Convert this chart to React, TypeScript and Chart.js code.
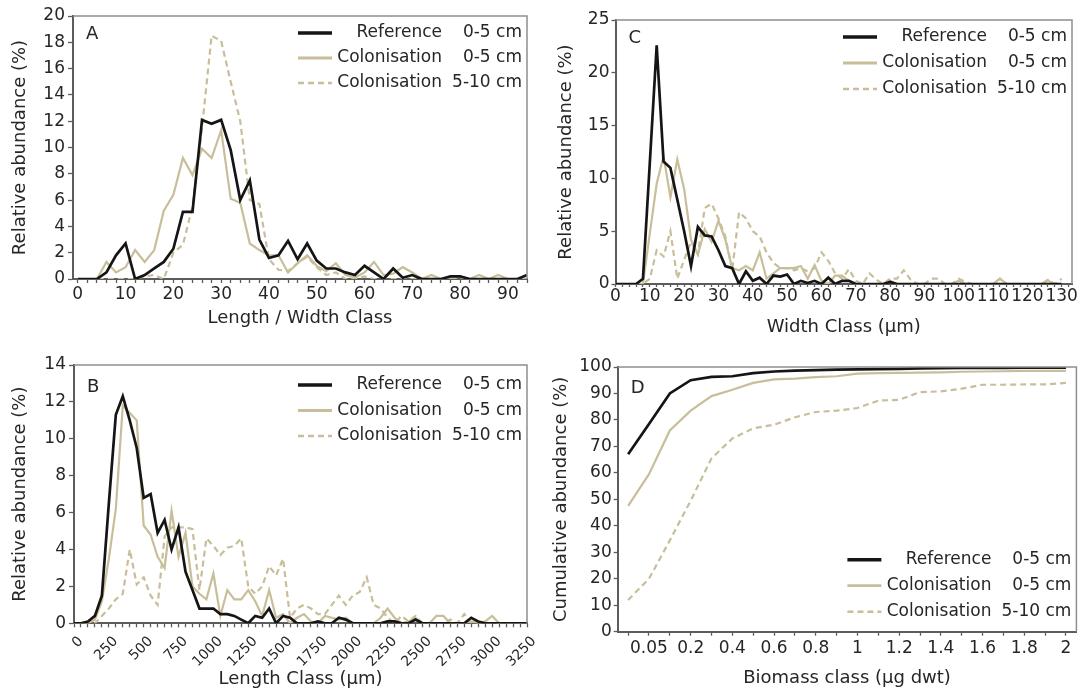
import React, { useEffect, useRef } from 'react';
import { Chart, registerables } from 'chart.js';

Chart.register(...registerables);

const FONT_FAMILY = '"DejaVu Sans", "Liberation Sans", sans-serif';
const TEXT_COLOR = '#262626';
const AXIS_COLOR = '#5c5c5c';
const FRAME_COLOR = '#8e8e8e';
const REF_COLOR = '#151515';
const COL_COLOR = '#c8be99';

const SERIES_NAMES = ['Reference', 'Colonisation', 'Colonisation'];
const SERIES_DEPTHS = ['0-5 cm', '0-5 cm', '5-10 cm'];

function classRange(start: number, end: number, step: number): number[] {
  const out: number[] = [];
  for (let v = start; v <= end + 1e-9; v += step) out.push(v);
  return out;
}

// ---------- Panel A : Length / Width class ----------
const A_CLASSES = classRange(0, 94, 2);
const A_REF = [
  0, 0, 0, 0.5, 1.8, 2.7, 0, 0.3, 0.8, 1.3,
  2.3, 5.1, 5.1, 12.1, 11.8, 12.1, 9.8, 6.0, 7.5, 3.0,
  1.6, 1.8, 2.9, 1.5, 2.7, 1.4, 0.8, 0.8, 0.5, 0.3,
  1.0, 0.5, 0, 0.8, 0.1, 0.3, 0, 0, 0, 0.2,
  0.2, 0, 0, 0, 0, 0, 0, 0.3,
];
const A_COL_0_5 = [
  0, 0, 0, 1.3, 0.5, 0.9, 2.2, 1.3, 2.2, 5.2,
  6.4, 9.2, 7.9, 9.9, 9.2, 11.3, 6.1, 5.8, 2.7, 2.2,
  1.8, 1.8, 0.5, 1.2, 1.8, 1.0, 0.6, 1.2, 0.3, 0.1,
  0.5, 1.3, 0.3, 0.4, 0.9, 0.5, 0, 0.3, 0, 0,
  0.2, 0, 0.3, 0, 0.3, 0, 0, 0,
];
const A_COL_5_10 = [
  0, 0, 0, 0, 0, 0, 0, 0.2, 0.3, 0,
  2.0, 2.6, 5.5, 11.5, 18.5, 18.1, 15.0, 12.0, 6.0, 5.7,
  1.5, 0.7, 0.6, 1.2, 1.7, 0.9, 0.3, 0.5, 0, 0,
  0.2, 0, 0, 0, 0, 0, 0, 0, 0, 0,
  0, 0, 0, 0, 0, 0, 0, 0,
];

// ---------- Panel B : Length class (µm) ----------
const B_CLASSES = classRange(0, 3250, 50);
const B_REF = [
  0, 0, 0.1, 0.4, 1.5, 6.5, 11.3, 12.3, 11.0, 9.5,
  6.8, 7.0, 4.9, 5.6, 4.0, 5.2, 2.8, 1.8, 0.8, 0.8,
  0.8, 0.5, 0.5, 0.4, 0.2, 0, 0.4, 0.3, 0.8, 0,
  0.4, 0.3, 0, 0, 0, 0.1, 0, 0, 0.3, 0.2,
  0, 0, 0, 0, 0, 0.1, 0.1, 0, 0, 0.2,
  0, 0, 0, 0, 0, 0, 0, 0.3, 0.1, 0,
  0, 0, 0, 0, 0, 0,
];
const B_COL_0_5 = [
  0, 0, 0, 0.2, 1.2, 3.5, 6.2, 11.8, 11.4, 11.0,
  5.3, 4.8, 3.6, 3.0, 6.1, 3.6, 4.9, 2.0, 1.6, 1.3,
  2.7, 0.4, 1.8, 1.3, 1.3, 1.8, 1.2, 0.4, 1.8, 0.3,
  0.5, 0, 0.3, 0.5, 0.1, 0, 0.4, 0.3, 0.2, 0.3,
  0, 0, 0, 0, 0.3, 0.8, 0.3, 0, 0.1, 0.3,
  0, 0, 0.4, 0.4, 0, 0, 0, 0.1, 0, 0.1,
  0.4, 0, 0, 0, 0, 0,
];
const B_COL_5_10 = [
  0, 0, 0, 0, 0.4, 0.8, 1.3, 1.6, 4.0, 2.1,
  2.5, 1.5, 1.0, 4.7, 5.2, 5.2, 5.2, 5.1, 1.8, 4.6,
  4.2, 3.7, 4.1, 4.2, 4.6, 2.0, 1.6, 2.0, 3.1, 2.6,
  3.5, 0.3, 0.8, 1.0, 0.8, 0.5, 0.5, 1.0, 1.5, 1.0,
  1.5, 1.7, 2.5, 1.0, 0.8, 0.3, 0, 0.4, 0.1, 0.4,
  0, 0, 0, 0, 0.2, 0, 0.5, 0, 0, 0,
  0, 0, 0, 0, 0, 0,
];

// ---------- Panel C : Width class (µm) ----------
const C_CLASSES = classRange(0, 130, 2);
const C_REF = [
  0, 0, 0, 0, 0.5, 11.5, 22.6, 11.6, 11.0, 8.0,
  5.0, 1.7, 5.4, 4.6, 4.5, 3.2, 1.7, 1.5, 0, 1.2,
  0.3, 0.6, 0, 0.8, 0.7, 0.9, 0, 0.3, 0.1, 0.3,
  0, 0.6, 0, 0.3, 0.3, 0, 0, 0, 0, 0,
  0.2, 0, 0, 0, 0, 0, 0, 0, 0, 0,
  0, 0, 0, 0, 0, 0, 0, 0, 0, 0,
  0, 0, 0, 0, 0, 0,
];
const C_COL_0_5 = [
  0, 0, 0, 0, 0, 4.8, 9.5, 12.1, 8.2, 11.8,
  9.0, 4.2, 2.8, 5.2, 4.0, 6.0, 4.2, 1.5, 1.3, 1.7,
  1.3, 3.0, 0.5, 1.0, 1.5, 1.5, 1.5, 1.7, 0.5, 1.8,
  0.3, 0, 0.8, 0.8, 0.3, 0, 0, 0, 0, 0,
  0.3, 0, 0, 0, 0, 0, 0, 0, 0, 0,
  0.3, 0, 0, 0, 0, 0, 0.5, 0, 0, 0,
  0, 0, 0, 0.3, 0, 0,
];
const C_COL_5_10 = [
  0, 0, 0, 0, 0, 0.5, 3.2, 2.6, 5.0, 0.5,
  2.3, 4.0, 2.8, 7.2, 7.6, 6.2, 4.5, 1.3, 6.8, 6.2,
  5.0, 4.5, 3.0, 2.0, 1.5, 1.5, 1.3, 1.5, 1.2, 1.5,
  3.0, 2.2, 1.0, 0.5, 1.4, 0.3, 0, 1.0, 0.4, 0,
  0.5, 0.5, 1.3, 0.4, 0, 0, 0.5, 0.5, 0, 0,
  0.5, 0.2, 0, 0, 0, 0, 0.5, 0, 0, 0,
  0, 0, 0, 0.4, 0, 0.5,
];

// ---------- Panel D : Biomass class (µg dwt) ----------
const D_CLASSES = [
  '0.01', '0.05', '0.1', '0.2', '0.3', '0.4', '0.5', '0.6', '0.7', '0.8', '0.9',
  '1', '1.1', '1.2', '1.3', '1.4', '1.5', '1.6', '1.7', '1.8', '1.9', '2',
];
const D_REF = [67, 78.5, 90, 95, 96.3, 96.5, 97.7, 98.3, 98.6, 98.8, 99, 99.1, 99.2, 99.3, 99.5, 99.6, 99.7, 99.7, 99.7, 99.8, 99.8, 99.8];
const D_COL_0_5 = [47.5, 59.5, 76, 83.5, 89, 91.4, 94, 95.3, 95.6, 96.2, 96.5, 97.5, 97.7, 97.8, 97.9, 98, 98.2, 98.3, 98.4, 98.5, 98.5, 98.5];
const D_COL_5_10 = [12, 20, 34.5, 49.5, 65.5, 73, 76.8, 78.2, 81, 83, 83.5, 84.5, 87.3, 87.6, 90.5, 90.8, 91.8, 93.3, 93.3, 93.4, 93.4, 94];

// ---------- helpers ----------
const SERIES_STYLES = [
  { borderColor: REF_COLOR, borderWidth: 2.7, borderDash: [] as number[], legendWidth: 3.4 },
  { borderColor: COL_COLOR, borderWidth: 2.2, borderDash: [] as number[], legendWidth: 2.8 },
  { borderColor: COL_COLOR, borderWidth: 2.2, borderDash: [6, 4], legendWidth: 2.6 },
];

function buildDatasets(xs: number[] | null, series: number[][]) {
  return series.map((vals, i) => ({
    label: SERIES_NAMES[i] + ' ' + SERIES_DEPTHS[i],
    data: xs ? vals.map((v, j) => ({ x: xs[j], y: v })) : vals,
    borderColor: SERIES_STYLES[i].borderColor,
    borderWidth: SERIES_STYLES[i].borderWidth,
    borderDash: SERIES_STYLES[i].borderDash,
    pointRadius: 0,
    tension: 0,
    fill: false,
  }));
}

const decorPlugin = {
  id: 'decor',
  afterDraw(chart: any, _args: any, opts: any) {
    const { ctx, chartArea: a } = chart;
    ctx.save();
    ctx.strokeStyle = FRAME_COLOR;
    ctx.lineWidth = 1.5;
    ctx.beginPath();
    ctx.moveTo(a.left, a.top);
    ctx.lineTo(a.right, a.top);
    ctx.lineTo(a.right, a.bottom);
    ctx.stroke();
    ctx.fillStyle = TEXT_COLOR;
    ctx.font = '18px ' + FONT_FAMILY;
    ctx.textAlign = 'left';
    ctx.textBaseline = 'middle';
    ctx.fillText(opts.letter, a.left + 13, a.top + opts.letterDy);
    for (let i = 0; i < 3; i++) {
      const y = opts.legendFromBottom
        ? a.bottom - opts.legendOffset - (2 - i) * opts.legendGap
        : a.top + opts.legendOffset + i * opts.legendGap;
      const st = SERIES_STYLES[i];
      ctx.strokeStyle = st.borderColor;
      ctx.lineWidth = st.legendWidth;
      ctx.setLineDash(st.borderDash);
      ctx.beginPath();
      ctx.moveTo(a.right - 229, y);
      ctx.lineTo(a.right - 195, y);
      ctx.stroke();
      ctx.setLineDash([]);
      ctx.fillStyle = TEXT_COLOR;
      ctx.font = '17px ' + FONT_FAMILY;
      ctx.textAlign = 'right';
      ctx.fillText(SERIES_NAMES[i], a.right - 85, y);
      ctx.fillText(SERIES_DEPTHS[i], a.right - 5, y);
    }
    ctx.restore();
  },
};

type PanelSpec = {
  box: { left: number; top: number; width: number; height: number };
  pad: { top: number; right: number; bottom: number };
  yWidth: number;
  xHeight: number;
  yTitle: string;
  yTitlePad: number;
  xTitle: string;
  y: { min: number; max: number; step: number; tick: number; pad: number };
  x: any;
  labels?: string[];
  datasets: any[];
  decor: any;
};

function axisGrid(tick: number) {
  return {
    display: true,
    drawOnChartArea: false,
    drawTicks: true,
    tickLength: tick,
    color: AXIS_COLOR,
    tickColor: AXIS_COLOR,
    tickWidth: 1.3,
  };
}

function buildConfig(spec: PanelSpec): any {
  const titleFont = { family: FONT_FAMILY, size: 18 };
  const x = {
    ...spec.x,
    position: 'bottom',
    grid: axisGrid(spec.x.tick),
    border: { display: true, color: AXIS_COLOR, width: 2 },
    title: { display: true, text: spec.xTitle, color: TEXT_COLOR, font: titleFont, padding: { top: 0, bottom: 0 } },
    afterFit: (s: any) => {
      s.height = spec.xHeight;
      s.paddingLeft = 0;
      s.paddingRight = 0;
    },
  };
  const y = {
    type: 'linear',
    position: 'left',
    min: spec.y.min,
    max: spec.y.max,
    ticks: {
      stepSize: spec.y.step,
      padding: spec.y.pad,
      color: TEXT_COLOR,
      font: { family: FONT_FAMILY, size: 17 },
    },
    grid: axisGrid(spec.y.tick),
    border: { display: true, color: AXIS_COLOR, width: 2 },
    title: { display: true, text: spec.yTitle, color: TEXT_COLOR, font: titleFont, padding: { top: spec.yTitlePad, bottom: 0 } },
    afterFit: (s: any) => { s.width = spec.yWidth; },
  };
  return {
    type: 'line',
    data: { labels: spec.labels, datasets: spec.datasets },
    options: {
      responsive: false,
      animation: false,
      devicePixelRatio: 1,
      events: [],
      layout: { padding: { top: spec.pad.top, right: spec.pad.right, bottom: spec.pad.bottom, left: 0 } },
      plugins: { legend: { display: false }, tooltip: { enabled: false }, decor: spec.decor },
      scales: { x, y },
    },
    plugins: [decorPlugin],
  };
}

function linearX(min: number, max: number, step: number, every: number, tick: number, pad: number, extra: any = {}) {
  return {
    type: 'linear',
    min,
    max,
    tick,
    ticks: {
      stepSize: step,
      autoSkip: false,
      includeBounds: false,
      maxRotation: 0,
      minRotation: 0,
      padding: pad,
      color: TEXT_COLOR,
      font: { family: FONT_FAMILY, size: 17 },
      callback: (v: number) => (Math.abs(v % every) < 1e-6 ? String(v) : ''),
      ...extra,
    },
  };
}

const PANELS: PanelSpec[] = [
  {
    box: { left: 0, top: 0, width: 545, height: 340 },
    pad: { top: 16, right: 18, bottom: 10.8 },
    yWidth: 73,
    xHeight: 50.2,
    yTitle: 'Relative abundance (%)',
    yTitlePad: 9.2,
    xTitle: 'Length / Width Class',
    y: { min: 0, max: 20, step: 2, tick: 5, pad: 3 },
    x: linearX(-1, 94, 2, 10, 4, 1),
    datasets: buildDatasets(A_CLASSES, [A_REF, A_COL_0_5, A_COL_5_10]),
    decor: { letter: 'A', letterDy: 18, legendFromBottom: false, legendOffset: 17, legendGap: 25 },
  },
  {
    box: { left: 0, top: 340, width: 545, height: 350 },
    pad: { top: 25, right: 18, bottom: 0 },
    yWidth: 74,
    xHeight: 66.7,
    yTitle: 'Relative abundance (%)',
    yTitlePad: 9.2,
    xTitle: 'Length Class (µm)',
    y: { min: 0, max: 14, step: 2, tick: 5, pad: 3 },
    x: linearX(0, 3250, 50, 250, 4, 6, {
      maxRotation: 45,
      minRotation: 45,
      labelOffset: 7,
      font: { family: FONT_FAMILY, size: 14 },
    }),
    datasets: buildDatasets(B_CLASSES, [B_REF, B_COL_0_5, B_COL_5_10]),
    decor: { letter: 'B', letterDy: 22, legendFromBottom: false, legendOffset: 20, legendGap: 25.5 },
  },
  {
    box: { left: 545, top: 0, width: 544, height: 340 },
    pad: { top: 20, right: 17, bottom: 2.2 },
    yWidth: 70.5,
    xHeight: 53.8,
    yTitle: 'Relative abundance (%)',
    yTitlePad: 10.2,
    xTitle: 'Width Class (µm)',
    y: { min: 0, max: 25, step: 5, tick: 4, pad: 2 },
    x: linearX(0, 133, 2, 10, 3, -1),
    datasets: buildDatasets(C_CLASSES, [C_REF, C_COL_0_5, C_COL_5_10]),
    decor: { letter: 'C', letterDy: 18, legendFromBottom: false, legendOffset: 17, legendGap: 26 },
  },
  {
    box: { left: 545, top: 340, width: 544, height: 350 },
    pad: { top: 27, right: 12.6, bottom: 1.2 },
    yWidth: 72.7,
    xHeight: 57.1,
    yTitle: 'Cumulative abundance (%)',
    yTitlePad: 5.2,
    xTitle: 'Biomass class (µg dwt)',
    y: { min: 0, max: 100, step: 10, tick: 4, pad: 2 },
    x: {
      type: 'category',
      offset: true,
      tick: 4,
      ticks: {
        autoSkip: false,
        maxRotation: 0,
        minRotation: 0,
        padding: 3,
        color: TEXT_COLOR,
        font: { family: FONT_FAMILY, size: 17 },
        callback: (_v: any, idx: number) => (idx % 2 === 1 ? D_CLASSES[idx] : ''),
      },
    },
    labels: D_CLASSES,
    datasets: buildDatasets(null, [D_REF, D_COL_0_5, D_COL_5_10]),
    decor: { letter: 'D', letterDy: 21, legendFromBottom: true, legendOffset: 20, legendGap: 26 },
  },
];

function Panel({ spec }: { spec: PanelSpec }) {
  const ref = useRef<HTMLCanvasElement>(null);
  useEffect(() => {
    const chart = new Chart(ref.current as HTMLCanvasElement, buildConfig(spec));
    return () => chart.destroy();
  }, [spec]);
  const b = spec.box;
  return (
    <canvas
      ref={ref}
      width={b.width}
      height={b.height}
      style={{ position: 'absolute', left: b.left, top: b.top, width: b.width, height: b.height }}
    />
  );
}

export default function App() {
  return (
    <div style={{ position: 'fixed', left: 0, top: 0, width: 1089, height: 690, background: '#ffffff', overflow: 'hidden' }}>
      {PANELS.map((p, i) => (
        <Panel key={i} spec={p} />
      ))}
    </div>
  );
}
